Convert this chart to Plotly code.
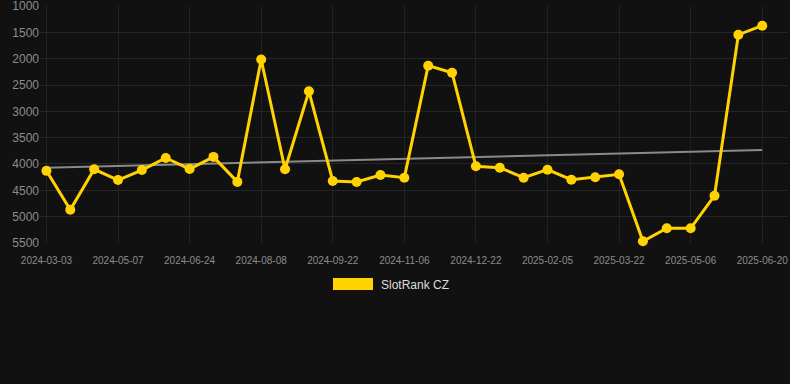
import plotly.graph_objects as go

dates = ["2024-03-03", "2024-03-25", "2024-04-15", "2024-05-07", "2024-05-23", "2024-06-08",
         "2024-06-24", "2024-07-09", "2024-07-24", "2024-08-08", "2024-08-23", "2024-09-07",
         "2024-09-22", "2024-10-07", "2024-10-22", "2024-11-06", "2024-11-21", "2024-12-06",
         "2024-12-22", "2025-01-06", "2025-01-21", "2025-02-05", "2025-02-20", "2025-03-07",
         "2025-03-22", "2025-04-06", "2025-04-21", "2025-05-06", "2025-05-21", "2025-06-05",
         "2025-06-20"]
ranks = [4130, 4870, 4100, 4305, 4115, 3885, 4095, 3865, 4340, 2015, 4100, 2620,
         4323, 4342, 4209, 4260, 2133, 2266, 4044, 4070, 4260, 4108, 4298, 4253,
         4196, 5468, 5221, 5221, 4602, 1545, 1374]
trend_x = [dates[0], dates[-1]]
trend_y = [4070, 3734]
tick_labels = dates[::3]
y_ticks = [1000, 1500, 2000, 2500, 3000, 3500, 4000, 4500, 5000, 5500]
series_name = "SlotRank CZ"

gold = "#FFD200"
bg = "#111111"

fig = go.Figure()
fig.add_trace(go.Scatter(x=trend_x, y=trend_y, mode="lines",
                         line=dict(color="#8a8a8a", width=2), showlegend=False, hoverinfo="skip"))
fig.add_trace(go.Scatter(x=dates, y=ranks, mode="lines+markers", name=series_name,
                         line=dict(color=gold, width=3), marker=dict(color=gold, size=10),
                         showlegend=False, cliponaxis=False))

L, R, T, B = 40, 2, 6, 141
W, H = 790, 384
pw, ph = W - L - R, H - T - B

def px(x):
    return (x - L) / pw

def py(y):
    return (H - B - y) / ph

fig.add_shape(type="rect", xref="paper", yref="paper",
              x0=px(333), x1=px(373), y0=py(290), y1=py(278),
              fillcolor=gold, line=dict(width=0))
fig.add_annotation(xref="paper", yref="paper", x=px(379), y=py(284.5), text=series_name,
                   showarrow=False, xanchor="left", yanchor="middle",
                   font=dict(color="#dddddd", size=12, family="Liberation Sans, Arial, sans-serif"))

fig.update_layout(
    width=W, height=H, margin=dict(l=L, r=R, t=T, b=B, autoexpand=False),
    paper_bgcolor=bg, plot_bgcolor=bg,
    font=dict(family="Liberation Sans, Arial, sans-serif", color="#8c8c8c"),
    xaxis=dict(type="category", categoryorder="array", categoryarray=dates,
               range=[-0.27, 31.08], tickmode="array", tickvals=tick_labels, ticktext=tick_labels,
               showgrid=True, gridcolor="#222222", gridwidth=1, zeroline=False,
               showline=False, ticks="outside", ticklen=8, tickcolor=bg, automargin=False,
               tickfont=dict(size=10, color="#8c8c8c"), ticklabeloverflow="allow"),
    yaxis=dict(range=[5500.5, 999.5], tickmode="array", tickvals=y_ticks,
               showgrid=True, gridcolor="#262626", gridwidth=1, zeroline=False, automargin=False,
               showline=False, ticks="", tickfont=dict(size=12, color="#8c8c8c"),
               ticklabeloverflow="allow"),
)

fig.write_html("out.html")
